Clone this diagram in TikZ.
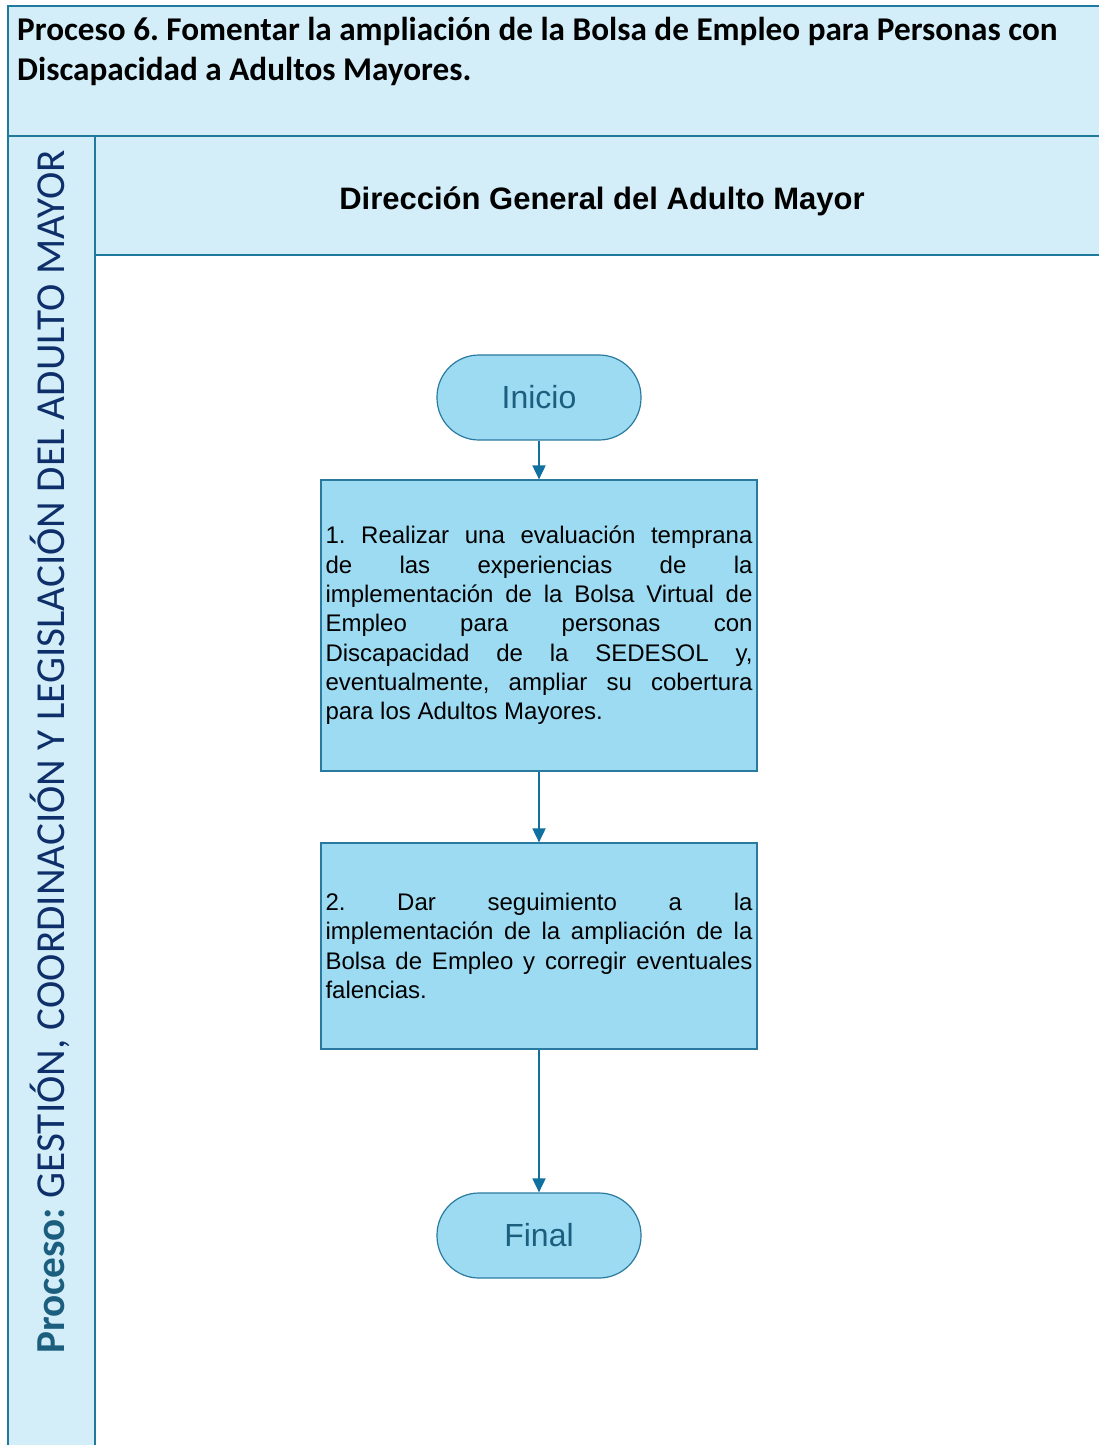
\documentclass[tikz,border=0pt]{standalone}
\usepackage{fontspec}
\setmainfont{Liberation Sans}
\newfontfamily\calibri{Carlito}
\usetikzlibrary{arrows.meta}
\definecolor{bandfill}{HTML}{D3EEF9}
\definecolor{bandline}{HTML}{1F7A9E}
\definecolor{boxfill}{HTML}{9DDBF2}
\definecolor{boxline}{HTML}{2A7AA0}
\definecolor{arrowc}{HTML}{10709F}
\definecolor{proc}{HTML}{1B5E7E}
\definecolor{navy}{HTML}{0E2F6A}
\definecolor{termtext}{HTML}{1B5E7E}
\frenchspacing
\hbadness=10000
\newcommand{\nohy}[1]{\hyphenpenalty=10000 \exhyphenpenalty=10000 #1}
\tikzset{
  band/.style={draw=bandline, line width=1.5pt, fill=bandfill},
  terminal/.style={draw=boxline, line width=1.2pt, fill=boxfill, rounded corners=42pt,
    minimum width=204pt, minimum height=85pt, inner sep=0pt,
    font=\fontsize{32}{36}\selectfont, text=termtext},
  stepbox/.style={draw=boxline, line width=1.2pt, fill=boxfill, rectangle,
    minimum width=436pt, inner sep=0pt, text width=427pt, align=justify,
    font=\fontsize{24}{29.3}\selectfont},
  flow/.style={draw=arrowc, line width=1.8pt, -{Triangle[length=14pt,width=13pt]}}
}
\begin{document}
\begin{tikzpicture}[x=1pt,y=-1pt]
\useasboundingbox (0,0) rectangle (1099,1445);
% frames
\path[band] (8,6) rectangle (1104,136);
\path[band] (8,136) rectangle (95,1450);
\path[band] (95,136) rectangle (1104,255);
% title
\node[anchor=north west, inner sep=0pt, align=left,
  font=\calibri\bfseries\fontsize{33.2}{40}\selectfont] (title) at (17,17)
  {Proceso 6. Fomentar la ampliación de la Bolsa de Empleo para Personas con\\
   Discapacidad a Adultos Mayores.};
% vertical label
\node[rotate=90, inner sep=0pt, font=\calibri\fontsize{41.2}{44}\selectfont] (vlabel) at (50,752)
  {\textcolor{proc}{\bfseries Proceso:} \textcolor{navy}{GESTIÓN, COORDINACIÓN Y LEGISLACIÓN DEL ADULTO MAYOR}};
% header
\node[font=\bfseries\fontsize{31}{36}\selectfont] (header) at (602,201)
  {Dirección General del Adulto Mayor};
% flow
\node[terminal] (inicio) at (539,397.5) {Inicio};
\node[stepbox, minimum height=291pt] (s1) at (539,625.5)
  {\nohy{1. Realizar una evaluación temprana\linebreak
   de las experiencias de la\linebreak
   implementación de la Bolsa Virtual de\linebreak
   Empleo para personas con\linebreak
   Discapacidad de la SEDESOL y,\linebreak
   eventualmente, ampliar su cobertura\linebreak
   para los Adultos Mayores.}};
\node[stepbox, minimum height=206pt] (s2) at (539,946)
  {\nohy{2. Dar seguimiento a la\linebreak
   implementación de la ampliación de la\linebreak
   Bolsa de Empleo y corregir eventuales\linebreak
   falencias.}};
\node[terminal] (final) at (539,1235.5) {Final};
\draw[flow] (inicio) -- (s1);
\draw[flow] (s1) -- (s2);
\draw[flow] (s2) -- (final);
\end{tikzpicture}
\end{document}
